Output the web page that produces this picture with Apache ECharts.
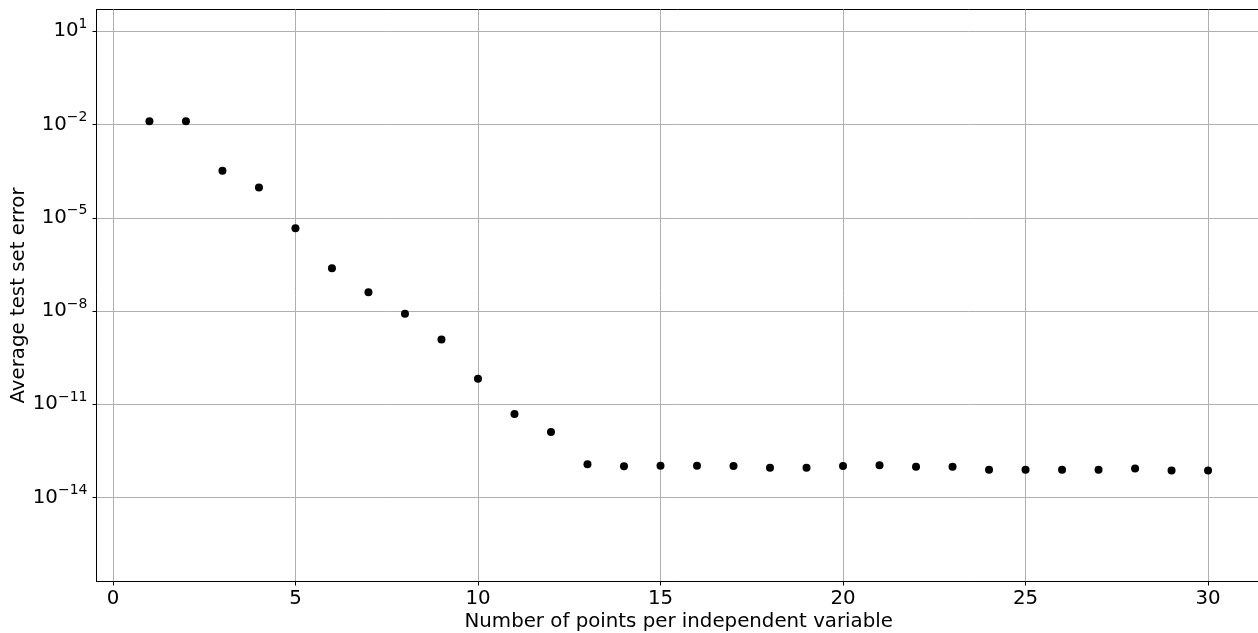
<!DOCTYPE html>
<html>
<head>
<meta charset="utf-8">
<script src="https://cdn.jsdelivr.net/npm/echarts@6/dist/echarts.min.js"></script>
<style>
html, body { margin: 0; padding: 0; background: #ffffff; }
#chart { width: 1258px; height: 633px; }
</style>
</head>
<body>
<div id="chart"></div>
<script>
// Data
const pointsPerVariable = [1, 2, 3, 4, 5, 6, 7, 8, 9, 10, 11, 12, 13, 14, 15,
  16, 17, 18, 19, 20, 21, 22, 23, 24, 25, 26, 27, 28, 29, 30];
const averageTestError = [1.28e-2, 1.28e-2, 3.24e-4, 9.4e-5, 4.63e-6, 2.39e-7,
  4.06e-8, 8.2e-9, 1.22e-9, 6.65e-11, 4.84e-12, 1.28e-12, 1.19e-13, 1.01e-13,
  1.06e-13, 1.06e-13, 1.03e-13, 9.1e-14, 9.1e-14, 1.03e-13, 1.1e-13, 9.9e-14,
  9.9e-14, 7.9e-14, 7.9e-14, 7.9e-14, 7.9e-14, 8.7e-14, 7.5e-14, 7.5e-14];
const xTickValues = [0, 5, 10, 15, 20, 25, 30];
const yTickValues = [1e1, 1e-2, 1e-5, 1e-8, 1e-11, 1e-14];
const xLabel = 'Number of points per independent variable';
const yLabel = 'Average test set error';

const FONT = 'DejaVu Sans';
const chart = echarts.init(document.getElementById('chart'), null, { renderer: 'canvas' });

const seriesData = pointsPerVariable.map((n, i) => [n, averageTestError[i]]);

function supLabel(v) {
  const e = Math.round(Math.log10(v));
  const s = e < 0 ? '\u2212' + (-e) : String(e);
  return '{b|10}{s|' + s + '}';
}

chart.setOption({
  animation: false,
  backgroundColor: '#ffffff',
  grid: {
    left: 96.5, top: 9.5, width: 1164.5, height: 572,
    outerBoundsMode: 'none',
    show: true, borderColor: '#000000', borderWidth: 1, backgroundColor: 'transparent',
    containLabel: false
  },
  xAxis: {
    type: 'value',
    min: -0.45, max: 31.45,
    name: xLabel,
    nameLocation: 'middle',
    nameGap: 30,
    nameMoveOverlap: false,
    nameTextStyle: { fontFamily: FONT, fontSize: 19.8, color: '#000' },
    axisLine: { show: true, onZero: false, lineStyle: { color: '#000', width: 1 } },
    axisTick: { show: true, length: 4, customValues: xTickValues, lineStyle: { color: '#000' } },
    axisLabel: { customValues: xTickValues, fontFamily: FONT, fontSize: 19.8, color: '#000', margin: 7 },
    splitLine: { show: true, lineStyle: { color: '#b0b0b0', width: 1 } }
  },
  yAxis: {
    type: 'log',
    logBase: 10,
    min: 2e-17, max: 50,
    name: yLabel,
    nameLocation: 'middle',
    nameGap: 68,
    nameMoveOverlap: false,
    nameRotate: 90,
    nameTextStyle: { fontFamily: FONT, fontSize: 19.8, color: '#000' },
    axisLine: { show: true, onZero: false, lineStyle: { color: '#000', width: 1 } },
    axisTick: { show: true, length: 4, customValues: yTickValues, lineStyle: { color: '#000' } },
    axisLabel: {
      customValues: yTickValues,
      formatter: supLabel,
      margin: 9,
      color: '#000',
      rich: {
        b: { fontFamily: FONT, fontSize: 19.8, color: '#000' },
        s: { fontFamily: FONT, fontSize: 14, color: '#000', padding: [0, 0, 14, 0] }
      }
    },
    splitLine: { show: true, lineStyle: { color: '#b0b0b0', width: 1 } },
    minorTick: { show: false },
    minorSplitLine: { show: false }
  },
  series: [{
    type: 'scatter',
    data: seriesData,
    symbol: 'circle',
    symbolSize: 8,
    itemStyle: { color: '#000000', opacity: 1 },
    z: 5
  }]
});
</script>
</body>
</html>
